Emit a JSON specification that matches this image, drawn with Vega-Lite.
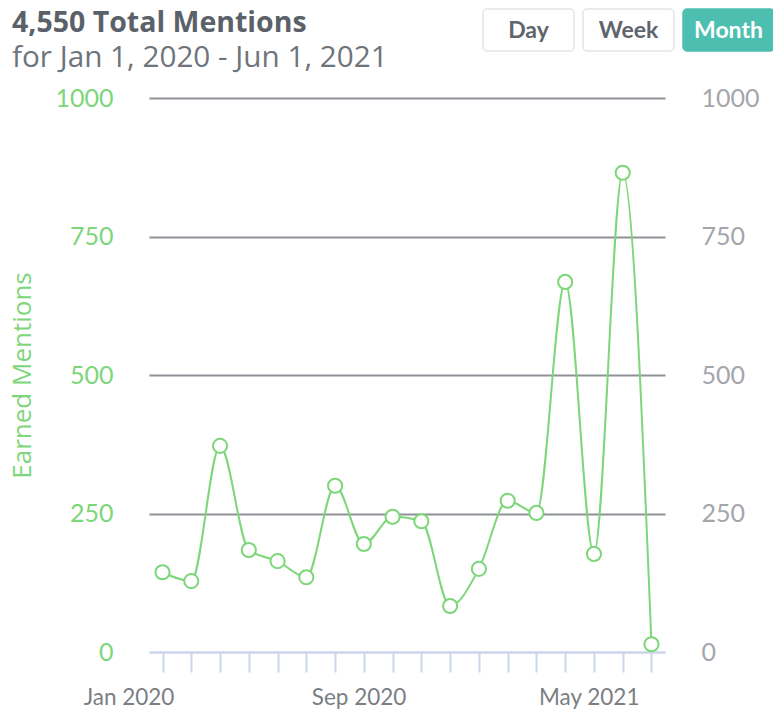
{
  "$schema": "https://vega.github.io/schema/vega-lite/v6.json",
  "padding": {"left": 9, "top": 8, "right": 0, "bottom": 0},
  "background": "white",
  "config": {
    "view": {"stroke": null},
    "font": "Lato"
  },
  "datasets": {
    "mentions": [
      {"month": "Jan 2020", "mentions": 144},
      {"month": "Feb 2020", "mentions": 128},
      {"month": "Mar 2020", "mentions": 372},
      {"month": "Apr 2020", "mentions": 184},
      {"month": "May 2020", "mentions": 164},
      {"month": "Jun 2020", "mentions": 135},
      {"month": "Jul 2020", "mentions": 300},
      {"month": "Aug 2020", "mentions": 195},
      {"month": "Sep 2020", "mentions": 244},
      {"month": "Oct 2020", "mentions": 236},
      {"month": "Nov 2020", "mentions": 83},
      {"month": "Dec 2020", "mentions": 150},
      {"month": "Jan 2021", "mentions": 273},
      {"month": "Feb 2021", "mentions": 251},
      {"month": "Mar 2021", "mentions": 668},
      {"month": "Apr 2021", "mentions": 177},
      {"month": "May 2021", "mentions": 865},
      {"month": "Jun 2021", "mentions": 14}
    ],
    "buttons": [
      {"label": "Day", "selected": false},
      {"label": "Week", "selected": false},
      {"label": "Month", "selected": true}
    ]
  },
  "vconcat": [
    {
      "title": {
        "text": "4,550 Total Mentions",
        "subtitle": "for Jan 1, 2020 - Jun 1, 2021",
        "orient": "top",
        "anchor": "start",
        "frame": "group",
        "dx": -137,
        "dy": 64,
        "offset": 0,
        "font": "Open Sans",
        "subtitleFont": "Open Sans",
        "fontSize": 28.5,
        "fontWeight": "bold",
        "color": "#5b6169",
        "subtitleFontSize": 29.7,
        "subtitleColor": "#6e747b",
        "subtitleFontWeight": "normal",
        "subtitlePadding": 6
      },
      "width": 625,
      "height": 62,
      "data": {"name": "buttons"},
      "encoding": {
        "x": {"field": "label", "type": "nominal", "sort": null,
              "scale": {"range": [334, 625], "paddingInner": 0.09, "paddingOuter": 0}, "axis": null},
        "y": {"datum": "btn", "type": "nominal",
              "scale": {"paddingInner": 0, "paddingOuter": 0.238, "align": 0}, "axis": null}
      },
      "layer": [
        {
          "mark": {"type": "rect", "cornerRadius": 4, "strokeWidth": 1.5},
          "encoding": {
            "fill": {"condition": {"test": "datum.selected", "value": "#4dbfb1"}, "value": "#ffffff"},
            "stroke": {"condition": {"test": "datum.selected", "value": "#4dbfb1"}, "value": "#e3e5e8"}
          }
        },
        {
          "mark": {"type": "text", "fontSize": 23, "fontWeight": "bold", "baseline": "middle", "dy": 1},
          "encoding": {
            "text": {"field": "label"},
            "color": {"condition": {"test": "datum.selected", "value": "#ffffff"}, "value": "#5f656d"}
          }
        }
      ]
    },
    {
      "width": 516,
      "height": 554,
      "data": {"name": "mentions"},
      "encoding": {
        "x": {
          "field": "month", "type": "ordinal", "sort": null,
          "scale": {"type": "point", "padding": 0.47},
          "axis": {
            "title": null,
            "domainColor": "#cbd6ea", "domainWidth": 2,
            "tickColor": "#cbd6ea", "tickWidth": 2, "tickSize": 20,
            "labelExpr": "(datum.value === 'Jan 2020' || datum.value === 'Sep 2020' || datum.value === 'May 2021') ? datum.value : ''",
            "labelOffset": -34, "labelPadding": 14, "labelAngle": 0,
            "labelFontSize": 22.5, "labelColor": "#7a7e83", "labelOverlap": false
          }
        }
      },
      "layer": [
        {
          "mark": {"type": "line", "interpolate": "monotone", "color": "#7dd67a", "strokeWidth": 2},
          "encoding": {
            "y": {
              "field": "mentions", "type": "quantitative",
              "scale": {"domain": [0, 1000], "nice": false},
              "axis": {
                "orient": "left", "values": [0, 250, 500, 750, 1000], "format": "d",
                "title": "Earned Mentions", "titleColor": "#7dd67a", "titleFontSize": 26,
                "titleFontWeight": "normal", "titlePadding": 19, "titleFont": "Open Sans",
                "labelColor": "#7dd67a", "labelFontSize": 25, "labelPadding": 36,
                "domain": false, "ticks": false,
                "grid": true,
                "gridColor": {"condition": {"test": "datum.value === 0", "value": "#cbd6ea"}, "value": "#8d9198"},
                "gridWidth": 2
              }
            }
          }
        },
        {
          "mark": {"type": "point", "filled": true, "fill": "white", "stroke": "#7dd67a", "strokeWidth": 2, "size": 200, "opacity": 1},
          "encoding": {
            "y": {
              "field": "mentions", "type": "quantitative",
              "scale": {"domain": [0, 1000], "nice": false},
              "axis": {
                "orient": "right", "values": [0, 250, 500, 750, 1000], "format": "d",
                "title": null, "labelColor": "#a3a6aa", "labelFontSize": 25, "labelPadding": 36,
                "domain": false, "ticks": false, "grid": false
              }
            }
          }
        }
      ],
      "resolve": {"scale": {"y": "independent"}}
    }
  ],
  "spacing": 13
}
